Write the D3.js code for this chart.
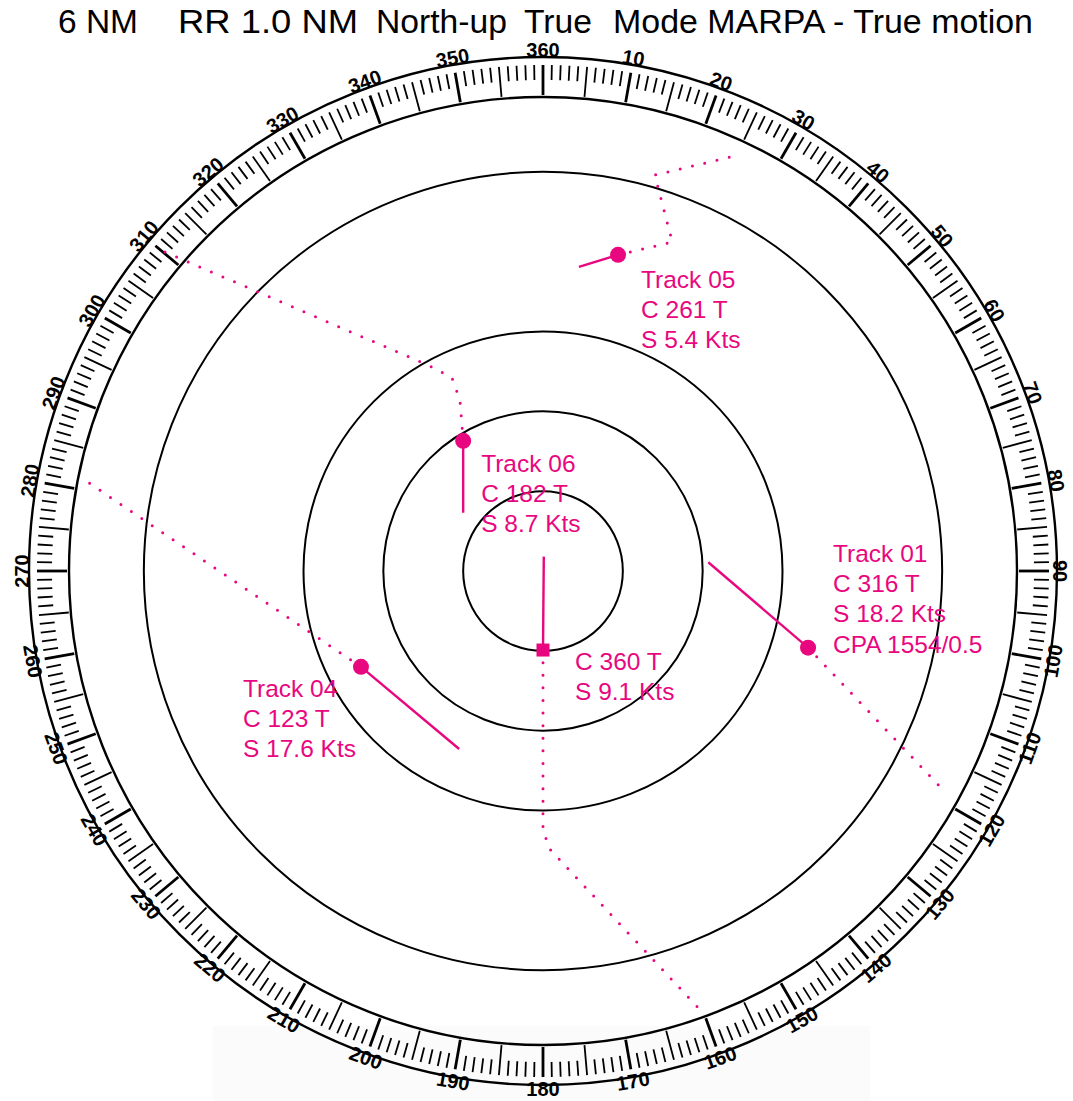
<!DOCTYPE html>
<html>
<head>
<meta charset="utf-8">
<script src="https://cdn.jsdelivr.net/npm/d3@7"></script>
<style>
  html, body { margin: 0; padding: 0; background: #fff; }
  svg { display: block; font-family: "Liberation Sans", Arial, sans-serif; }
</style>
</head>
<body>
<div id="chartMain"></div>
<script>
// --- data (positions in NM, east / north of the screen centre) ---
const titleParts = ["6 NM", "RR 1.0 NM", "North-up", "True", "Mode MARPA - True motion"];
const ringRanges = [1, 2, 3, 5];
const bearingLabels = d3.range(0, 360, 10);

const trackIds = ["05", "06", "01", "04", "own"];
const trackPos = [[0.94, 3.96], [-1.00, 1.63], [3.32, -0.96], [-2.28, -1.20], [0.00, -0.99]];
const vectorEnd = [[0.45, 3.81], [-1.00, 0.73], [2.07, 0.11], [-1.05, -2.23], [0.01, 0.18]];
const pastTrack = [
    [[0.94, 3.96], [1.62, 4.12], [1.40, 4.96], [2.41, 5.20]],
    [[-1.00, 1.63], [-1.04, 2.14], [-1.14, 2.42], [-1.42, 2.57], [-4.86, 4.05]],
    [[3.32, -0.96], [5.00, -2.73]],
    [[-2.28, -1.20], [-5.77, 1.16]],
    [[0.00, -0.99], [0.00, -3.24], [0.08, -3.48], [1.98, -5.51]]
];
const trackText = [
    ["Track 05", "C 261 T", "S 5.4 Kts"],
    ["Track 06", "C 182 T", "S 8.7 Kts"],
    ["Track 01", "C 316 T", "S 18.2 Kts", "CPA 1554/0.5"],
    ["Track 04", "C 123 T", "S 17.6 Kts"],
    ["C 360 T", "S 9.1 Kts"]
];

// --- layout ---
const W = 1073, H = 1101;
const cx = 543, cy = 571;
const R6 = 479;                       // 6 NM in px
const titleX = [58, 178, 376, 524, 613];
const titleW = [80, 180, 131, 68, 420];
const labelOffset = [[23, 33], [18, 31], [25, -86], [-118, 30], [32, 20]];
const magenta = '#e8077f';

const svg = d3.select('#chartMain')
    .append('svg')
    .attr('width', W)
    .attr('height', H);

// faint scan smudge at the bottom of the original
svg.append('rect')
    .attr('x', 213).attr('y', 1026)
    .attr('width', 657).attr('height', 75)
    .attr('fill', '#fbfbfb');

// scales
const rng = d3.scaleLinear().domain([0, 6]).range([0, R6]);
const x = d3.scaleLinear().domain([-6, 6]).range([cx - R6, cx + R6]);
const y = d3.scaleLinear().domain([-6, 6]).range([cy + R6, cy - R6]);
const polar = (deg, r) => {
    const a = deg * Math.PI / 180;
    return [cx + r * Math.sin(a), cy - r * Math.cos(a)];
};

// title
svg.append('g')
    .selectAll('text')
    .data(titleParts)
    .join('text')
    .attr('x', (d, i) => titleX[i])
    .attr('y', 33)
    .attr('font-size', 33)
    .attr('textLength', (d, i) => titleW[i])
    .attr('lengthAdjust', 'spacingAndGlyphs')
    .attr('fill', '#000')
    .text(d => d);

// range rings
svg.append('g')
    .selectAll('circle')
    .data(ringRanges)
    .join('circle')
    .attr('cx', cx).attr('cy', cy)
    .attr('r', d => rng(d))
    .attr('fill', 'none')
    .attr('stroke', '#000')
    .attr('stroke-width', 2);

// bearing bezel
const bezel = svg.append('g');
bezel.selectAll('circle')
    .data([474, 514])
    .join('circle')
    .attr('cx', cx).attr('cy', cy)
    .attr('r', d => d)
    .attr('fill', 'none')
    .attr('stroke', '#000')
    .attr('stroke-width', 2.4);

bezel.append('g')
    .selectAll('line')
    .data(d3.range(360))
    .join('line')
    .each(function (d) {
        const len = d % 5 === 0 ? 30 : 15;
        const p1 = polar(d, 506), p2 = polar(d, 506 - len);
        d3.select(this)
            .attr('x1', p1[0]).attr('y1', p1[1])
            .attr('x2', p2[0]).attr('y2', p2[1]);
    })
    .attr('stroke', '#000')
    .attr('stroke-width', d => d % 10 === 0 ? 2.8 : 1.8);

bezel.append('g')
    .selectAll('text')
    .data(bearingLabels)
    .join('text')
    .attr('transform', d => {
        const inward = d > 90 && d < 270;
        const p = polar(d, inward ? 518 : (d === 90 ? 517 : 521));
        return `translate(${p[0]},${p[1]}) rotate(${inward ? d - 180 : d})`;
    })
    .attr('text-anchor', 'middle')
    .attr('dominant-baseline', 'central')
    .attr('font-size', 20)
    .attr('font-weight', 'bold')
    .attr('fill', '#000')
    .text(d => d === 0 ? '360' : d);

// tracks
const line = d3.line()
    .x(d => x(d[0]))
    .y(d => y(d[1]));

const tracks = svg.append('g');

tracks.selectAll('path.past')
    .data(pastTrack)
    .join('path')
    .attr('class', 'past')
    .attr('d', line)
    .attr('fill', 'none')
    .attr('stroke', magenta)
    .attr('stroke-width', 3)
    .attr('stroke-linecap', 'round')
    .attr('stroke-dasharray', '0 12.6');

tracks.selectAll('line.vec')
    .data(trackIds)
    .join('line')
    .attr('class', 'vec')
    .attr('x1', (d, i) => x(trackPos[i][0]))
    .attr('y1', (d, i) => y(trackPos[i][1]))
    .attr('x2', (d, i) => x(vectorEnd[i][0]))
    .attr('y2', (d, i) => y(vectorEnd[i][1]))
    .attr('stroke', magenta)
    .attr('stroke-width', 2.4);

tracks.selectAll('circle.tgt')
    .data(trackIds.filter(d => d !== 'own'))
    .join('circle')
    .attr('class', 'tgt')
    .attr('cx', (d, i) => x(trackPos[i][0]))
    .attr('cy', (d, i) => y(trackPos[i][1]))
    .attr('r', 8)
    .attr('fill', magenta);

const own = trackIds.indexOf('own');
tracks.append('rect')
    .attr('x', x(trackPos[own][0]) - 6.5)
    .attr('y', y(trackPos[own][1]) - 6.5)
    .attr('width', 13).attr('height', 13)
    .attr('fill', magenta);

// track labels
trackText.forEach((lines, i) => {
    const tx = x(trackPos[i][0]) + labelOffset[i][0];
    const ty = y(trackPos[i][1]) + labelOffset[i][1];
    tracks.append('text')
        .attr('font-size', 24.5)
        .attr('fill', magenta)
        .selectAll('tspan')
        .data(lines)
        .join('tspan')
        .attr('x', tx)
        .attr('y', (d, j) => ty + j * 30.3)
        .text(d => d);
});
</script>
</body>
</html>
